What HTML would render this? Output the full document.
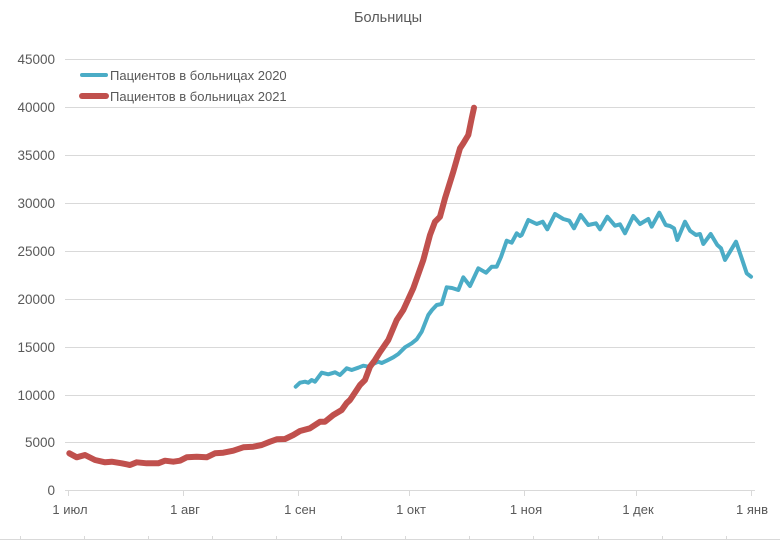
<!DOCTYPE html>
<html><head><meta charset="utf-8"><style>
html,body{margin:0;padding:0;background:#fff;}
svg{display:block;}
text{font-family:"Liberation Sans",sans-serif;fill:#595959;}
</style></head><body>
<svg width="780" height="542" viewBox="0 0 780 542" xmlns="http://www.w3.org/2000/svg">
<rect width="780" height="542" fill="#fff"/>
<text x="388" y="22" font-size="14.5" text-anchor="middle">Больницы</text>
<g stroke="#d9d9d9" stroke-width="1">
<line x1="65" y1="59.5" x2="755" y2="59.5"/>
<line x1="65" y1="107.5" x2="755" y2="107.5"/>
<line x1="65" y1="155.5" x2="755" y2="155.5"/>
<line x1="65" y1="203.5" x2="755" y2="203.5"/>
<line x1="65" y1="251.5" x2="755" y2="251.5"/>
<line x1="65" y1="299.5" x2="755" y2="299.5"/>
<line x1="65" y1="347.5" x2="755" y2="347.5"/>
<line x1="65" y1="395.5" x2="755" y2="395.5"/>
<line x1="65" y1="442.5" x2="755" y2="442.5"/>
<line x1="65" y1="490.5" x2="755" y2="490.5"/>
<line x1="68.5" y1="490" x2="68.5" y2="496"/>
<line x1="183.5" y1="490" x2="183.5" y2="496"/>
<line x1="298.5" y1="490" x2="298.5" y2="496"/>
<line x1="409.5" y1="490" x2="409.5" y2="496"/>
<line x1="524.5" y1="490" x2="524.5" y2="496"/>
<line x1="636.5" y1="490" x2="636.5" y2="496"/>
<line x1="751.5" y1="490" x2="751.5" y2="496"/>
</g>
<g font-size="13.5" text-anchor="end">
<text x="55" y="64">45000</text>
<text x="55" y="112">40000</text>
<text x="55" y="160">35000</text>
<text x="55" y="208">30000</text>
<text x="55" y="256">25000</text>
<text x="55" y="304">20000</text>
<text x="55" y="352">15000</text>
<text x="55" y="400">10000</text>
<text x="55" y="447">5000</text>
<text x="55" y="495">0</text>
</g>
<g font-size="13" text-anchor="middle">
<text x="70" y="514">1 июл</text>
<text x="185" y="514">1 авг</text>
<text x="300" y="514">1 сен</text>
<text x="411" y="514">1 окт</text>
<text x="526" y="514">1 ноя</text>
<text x="638" y="514">1 дек</text>
<text x="752" y="514">1 янв</text>
</g>
<g stroke="#d9d9d9" stroke-width="1">
<line x1="0" y1="539.5" x2="780" y2="539.5"/>
<line x1="20.5" y1="536" x2="20.5" y2="540"/>
<line x1="84.5" y1="536" x2="84.5" y2="540"/>
<line x1="148.5" y1="536" x2="148.5" y2="540"/>
<line x1="212.5" y1="536" x2="212.5" y2="540"/>
<line x1="276.5" y1="536" x2="276.5" y2="540"/>
<line x1="341.5" y1="536" x2="341.5" y2="540"/>
<line x1="405.5" y1="536" x2="405.5" y2="540"/>
<line x1="469.5" y1="536" x2="469.5" y2="540"/>
<line x1="533.5" y1="536" x2="533.5" y2="540"/>
<line x1="598.5" y1="536" x2="598.5" y2="540"/>
<line x1="662.5" y1="536" x2="662.5" y2="540"/>
<line x1="726.5" y1="536" x2="726.5" y2="540"/>
</g>
<!-- legend -->
<line x1="82" y1="75" x2="106" y2="75" stroke="#4bacc6" stroke-width="4" stroke-linecap="round"/>
<text x="110" y="80" font-size="13">Пациентов в больницах 2020</text>
<line x1="82" y1="96" x2="106" y2="96" stroke="#c0504d" stroke-width="6" stroke-linecap="round"/>
<text x="110" y="101" font-size="13">Пациентов в больницах 2021</text>
<!-- 2020 -->
<polyline fill="none" stroke="#4bacc6" stroke-width="4" stroke-linejoin="round" stroke-linecap="round" points="295.7,386.7 300,382.7 305,381.7 308.3,382.7 311.7,380 315,381.7 321.7,372.7 328.3,374.3 335,372.3 340,375 346.7,368.3 351.7,370 358.3,367.7 363.3,365.7 368.3,366.7 373,364 378.3,361.7 381.7,363 386.7,360.7 393.3,357.3 398.3,354 405,347.3 411.7,343.3 416.7,339.3 421.7,331.7 428.3,315 432,310 436.7,305 441.7,304 446.7,287.3 452,288 458.3,290 463.3,277.3 470,286 478.3,268.3 486,272.7 491.7,266.7 496.7,266.7 501,257 506.7,240.7 511.7,242.7 516.7,233.3 520,236 521.7,235 528.3,220 536.7,224 542.7,221.7 547.3,229.3 555,214 563.3,219 569.3,220.7 574,228.3 580.7,215 588.3,225 596,223.3 600,229.3 607.3,216.7 615,225.7 620,224.3 625,233.3 633.3,216 640,224 648.3,219 651.7,226.7 659.3,212.7 665.7,225 670,226 674,228.3 677.3,240 685,221.7 690,230.7 696,235 700,234 703.3,244 710.7,234 717.3,245 721,248.3 725,260 736,241.7 741.7,258.3 746.7,273.3 751,276.7"/>
<!-- 2021 -->
<polyline fill="none" stroke="#c0504d" stroke-width="6" stroke-linejoin="round" stroke-linecap="round" points="69.3,453.3 76.7,457.3 85,455 95,460 105,462.3 111.7,461.7 121.7,463.3 130,465 136.7,462.3 146.7,463.3 158.3,463.3 165,460.7 173.3,461.7 180,460.7 186.7,457.3 196.7,456.7 206.7,457.3 215,453.3 223.3,452.7 233.3,450.7 243.3,447.3 253.3,446.7 261.7,445 270,441.7 276.7,439.3 285,439 293.3,435 300,431 310,428.3 320,421.7 325,421.7 333.3,415 341.7,410 346.7,403 350,400 356.7,390 360,385 365,380 370,366.7 375,360 380,352 388.3,340 396.7,320 403.3,310 413.3,288.3 423.3,260 430,235 435,221.7 440,216.7 445,198.3 453.3,171.7 460,148.3 463.3,143.3 468.3,135 471.7,118.3 474,107.7"/>
</svg>
</body></html>
